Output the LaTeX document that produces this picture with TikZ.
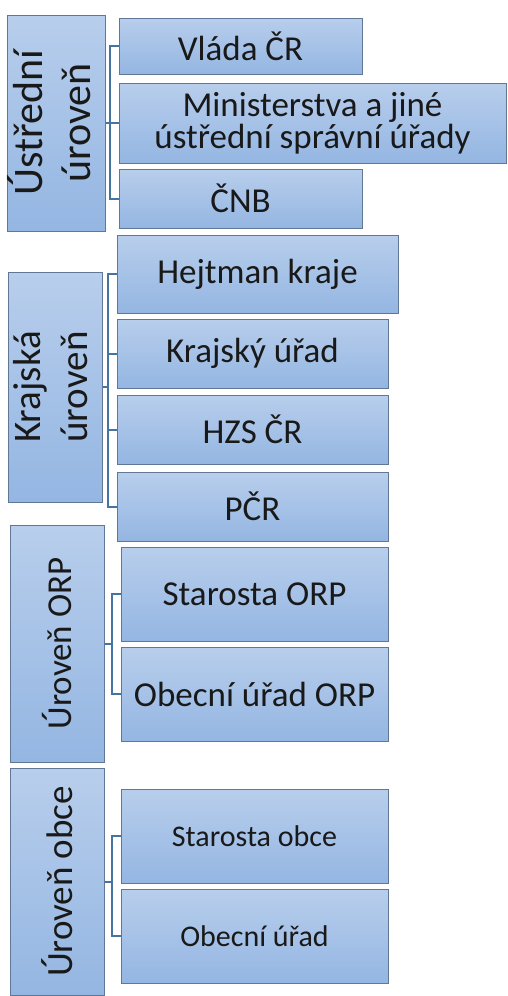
\documentclass[tikz,border=0pt]{standalone}
\usepackage{fontspec}
\setmainfont{Carlito}
\usetikzlibrary{positioning}
\definecolor{boxtop}{RGB}{184,206,236}
\definecolor{boxbot}{RGB}{148,182,226}
\definecolor{boxline}{RGB}{96,120,150}
\definecolor{connline}{RGB}{70,116,160}
\begin{document}
\begin{tikzpicture}[x=1pt,y=-1pt,
    box/.style={draw=boxline, line width=1pt, top color=boxtop, bottom color=boxbot,
      inner sep=0pt, text=black!90, align=center, font=\fontsize{35}{32}\selectfont},
    small/.style={font=\fontsize{30}{32}\selectfont},
    conn/.style={draw=connline, line width=2pt}]
  \useasboundingbox (0,0) rectangle (507,996);
  % levels on the left
  \node[box, minimum width=93, minimum height=216] (ustr) at (56.5,123)
    {\fontsize{42}{48}\selectfont\rotatebox{90}{\begin{tabular}{@{}c@{}}Ústřední\\úroveň\end{tabular}}};
  \node[box, minimum width=90, minimum height=230] (kraj) at (55,387)
    {\fontsize{39}{47}\selectfont\rotatebox{90}{\begin{tabular}{@{}c@{}}Krajská\\úroveň\end{tabular}}};
  \node[box, minimum width=94, minimum height=237] (orp) at (57,643.5)
    {\fontsize{35}{40}\selectfont\rotatebox{90}{Úroveň ORP}};
  \node[box, minimum width=94, minimum height=227] (obec) at (57,881.5)
    {\fontsize{37}{42}\selectfont\rotatebox{90}{Úroveň obce}};
  % ustredni uroven
  \node[box, minimum width=243, minimum height=56] (vlada) at (240.5,46) {Vláda ČR};
  \node[box, minimum width=387, minimum height=80] (min) at (312.5,123)
    {Ministerstva a jiné\\ústřední správní úřady};
  \node[box, minimum width=243, minimum height=59] (cnb) at (240.5,198.5) {ČNB};
  % krajska uroven
  \node[box, minimum width=281, minimum height=78] (hejtman) at (257.5,274) {Hejtman kraje};
  \node[box, minimum width=271, minimum height=69] (kuradu) at (252.5,353.5) {Krajský úřad};
  \node[box, minimum width=271, minimum height=69] (hzs) at (252.5,429.5) {HZS ČR};
  \node[box, minimum width=271, minimum height=69] (pcr) at (252.5,506.5) {PČR};
  % uroven ORP
  \node[box, minimum width=267, minimum height=94] (storp) at (254.5,594) {Starosta ORP};
  \node[box, minimum width=267, minimum height=94] (ouorp) at (254.5,694) {Obecní úřad ORP};
  % uroven obce
  \node[box, small, minimum width=267, minimum height=94] (stobec) at (254.5,836) {Starosta obce};
  \node[box, small, minimum width=267, minimum height=94] (ouobec) at (254.5,936) {Obecní úřad};
  % connectors
  \begin{scope}[conn]
    \foreach \c in {vlada,min,cnb}
      \draw (ustr.east) -| ([xshift=-8.5]\c.west) -- (\c.west);
    \foreach \c in {hejtman,kuradu,hzs,pcr}
      \draw (kraj.east) -| ([xshift=-8.5]\c.west) -- (\c.west);
    \foreach \c in {storp,ouorp}
      \draw (orp.east) -| ([xshift=-8.5]\c.west) -- (\c.west);
    \foreach \c in {stobec,ouobec}
      \draw (obec.east) -| ([xshift=-8.5]\c.west) -- (\c.west);
  \end{scope}
\end{tikzpicture}
\end{document}
